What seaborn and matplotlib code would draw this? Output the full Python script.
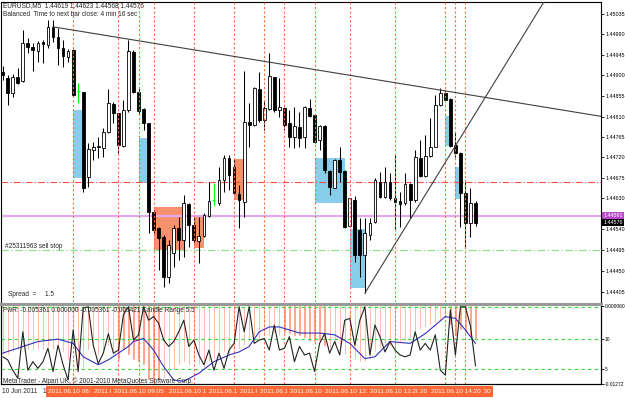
import matplotlib
matplotlib.use("Agg")
import matplotlib.pyplot as plt
import seaborn as sns
import numpy as np
import pandas as pd
from matplotlib.patches import Rectangle
from matplotlib.ticker import FixedLocator, FixedFormatter, NullLocator
from matplotlib.transforms import blended_transform_factory

# ---------------- data ----------------
opens = [1.44908,1.44894,1.44861,1.44897,1.44888,1.44971,1.44963,1.44954,1.44974,1.44967,
         1.45007,1.44985,1.44960,1.44941,1.44956,1.44866,1.44864,1.44677,1.44736,1.44743,
         1.44740,1.44776,1.44837,1.44817,1.44745,1.44824,1.44952,1.44864,1.44826,1.44795,
         1.44600,1.44564,1.44545,1.44457,1.44509,1.44564,1.44538,1.44617,1.44571,1.44536,
         1.44547,1.44591,1.44626,1.44619,1.44670,1.44718,1.44699,1.44639,1.44622,1.44798,
         1.44791,1.44870,1.44802,1.44826,1.44897,1.44824,1.44828,1.44795,1.44765,1.44787,
         1.44765,1.44828,1.44813,1.44758,1.44789,1.44690,1.44652,1.44714,1.44690,1.44569,
         1.44626,1.44560,1.44505,1.44549,1.44578,1.44666,1.44633,1.44666,1.44630,1.44624,
         1.44619,1.44661,1.44626,1.44718,1.44679,1.44723,1.44743,1.44835,1.44861,1.44848,
         1.44747,1.44729,1.44641,1.44575,1.44619]
highs = [1.44921,1.44901,1.44903,1.44916,1.45000,1.44982,1.44971,1.44976,1.44978,1.45022,
         1.45022,1.45004,1.44978,1.44958,1.44958,1.44883,1.44864,1.44751,1.44754,1.44765,
         1.44784,1.44870,1.44842,1.44817,1.44846,1.44978,1.44956,1.44872,1.44828,1.44795,
         1.44604,1.44567,1.44549,1.44538,1.44571,1.44589,1.44637,1.44619,1.44586,1.44589,
         1.44597,1.44666,1.44663,1.44699,1.44725,1.44725,1.44716,1.44659,1.44910,1.44839,
         1.44875,1.44908,1.44846,1.44949,1.44897,1.44894,1.44831,1.44824,1.44831,1.44820,
         1.44833,1.44848,1.44813,1.44791,1.44791,1.44692,1.44716,1.44743,1.44692,1.44630,
         1.44635,1.44586,1.44586,1.44586,1.44674,1.44688,1.44699,1.44685,1.44725,1.44644,
         1.44685,1.44663,1.44736,1.44758,1.44769,1.44806,1.44857,1.44872,1.44868,1.44850,
         1.44776,1.44732,1.44666,1.44652,1.44623]
lows = [1.44890,1.44835,1.44853,1.44882,1.44886,1.44949,1.44910,1.44930,1.44927,1.44960,
        1.44974,1.44923,1.44919,1.44930,1.44853,1.44839,1.44644,1.44655,1.44714,1.44718,
        1.44721,1.44773,1.44795,1.44729,1.44743,1.44820,1.44861,1.44813,1.44780,1.44553,
        1.44553,1.44472,1.44435,1.44443,1.44479,1.44494,1.44501,1.44523,1.44531,1.44487,
        1.44545,1.44589,1.44615,1.44615,1.44644,1.44648,1.44641,1.44564,1.44589,1.44743,
        1.44789,1.44798,1.44780,1.44824,1.44820,1.44809,1.44780,1.44743,1.44740,1.44743,
        1.44740,1.44809,1.44752,1.44736,1.44685,1.44637,1.44652,1.44666,1.44565,1.44567,
        1.44490,1.44457,1.44421,1.44538,1.44575,1.44630,1.44630,1.44626,1.44560,1.44567,
        1.44615,1.44586,1.44622,1.44677,1.44677,1.44721,1.44743,1.44833,1.44846,1.44743,
        1.44721,1.44567,1.44520,1.44545,1.44568]
closes = [1.44900,1.44861,1.44897,1.44883,1.44971,1.44963,1.44956,1.44971,1.44969,1.45007,
          1.44985,1.44960,1.44943,1.44954,1.44857,1.44866,1.44652,1.44738,1.44743,1.44745,
          1.44776,1.44839,1.44817,1.44747,1.44824,1.44954,1.44864,1.44822,1.44795,1.44600,
          1.44560,1.44542,1.44457,1.44527,1.44564,1.44538,1.44619,1.44571,1.44538,1.44547,
          1.44593,1.44624,1.44626,1.44670,1.44718,1.44681,1.44641,1.44626,1.44798,1.44791,
          1.44872,1.44802,1.44828,1.44899,1.44824,1.44831,1.44791,1.44765,1.44789,1.44762,
          1.44831,1.44811,1.44754,1.44789,1.44692,1.44655,1.44714,1.44688,1.44567,1.44630,
          1.44505,1.44505,1.44553,1.44575,1.44670,1.44633,1.44666,1.44630,1.44622,1.44617,
          1.44661,1.44626,1.44721,1.44679,1.44723,1.44743,1.44835,1.44861,1.44846,1.44745,
          1.44729,1.44641,1.44575,1.44619,1.44576]

# zones (start bar, end bar, low, high)
blue_start = [14, 27, 62, 69, 88, 90]
blue_end = [16, 29, 68, 72, 89, 91]
blue_low = [1.44674, 1.44663, 1.44619, 1.44432, 1.44745, 1.44628]
blue_high = [1.44824, 1.44762, 1.44718, 1.44562, 1.44811, 1.44699]
orange_start = [30, 38, 46]
orange_end = [36, 40, 48]
orange_low = [1.44516, 1.44520, 1.44626]
orange_high = [1.44611, 1.44589, 1.44716]

# vertical lines: bar index and its time label (drawn in this order)
vline_bars = [14, 23, 30, 27, 38, 46, 52, 56, 62, 69, 78, 88, 92, 90]
vline_times = ["2011.06.10 08:00", "2011.06.10 08:45", "2011.06.10 09:20", "2011.06.10 09:05",
               "2011.06.10 10:00", "2011.06.10 10:40", "2011.06.10 11:10", "2011.06.10 11:30",
               "2011.06.10 12:00", "2011.06.10 12:35", "2011.06.10 13:20", "2011.06.10 14:10",
               "2011.06.10 14:30", "2011.06.10 14:20"]
red_level = 1.44665
bid_level = 1.44591
stop_level = 1.44515

trend_a = ([10, 88], [1.45007, 1.44866])
trend_b = ([72, 88], [1.44421, 1.44709])

price_tick_labels = ['1.45035', '1.44990', '1.44945', '1.44900', '1.44855', '1.44810', '1.44765',
                     '1.44720', '1.44675', '1.44630', '1.44540', '1.44495', '1.44450', '1.44405']
price_tick_pos = [1.45035, 1.44992, 1.44945, 1.44901, 1.44855, 1.44809, 1.44765,
                  1.44721, 1.44674, 1.44630, 1.44562, 1.44516, 1.44469, 1.44424]

# indicator: candle range (black), its average (blue), PwR histogram
candle_range = [7.0, 6.5, 4.8, 3.5, 11.1, 4.8, 6.2, 5.1, 6.2, 8.4,
                4.6, 8.9, 5.7, 3.2, 11.4, 4.6, 15.0, 15.2, 8.9, 5.9,
                7.6, 10.8, 7.6, 8.1, 13.9, 15.2, 9.75, 10.6, 15.2, 13.0,
                13.6, 12.5, 9.75, 8.7, 9.5, 11.1, 13.0, 8.7, 9.75, 7.3,
                5.7, 8.1, 4.8, 7.6, 5.1, 8.1, 9.2, 15.2, 11.1, 15.2,
                9.2, 9.75, 10.0, 8.1, 12.2, 8.1, 8.4, 10.3, 6.2, 8.7,
                7.3, 7.6, 4.6, 9.2, 10.8, 7.6, 9.5, 7.3, 13.0, 13.3,
                8.9, 13.0, 15.2, 7.3, 12.2, 10.3, 7.8, 9.5, 8.1, 7.3,
                7.0, 7.3, 11.1, 8.1, 9.2, 8.1, 10.6, 4.8, 4.0, 14.7,
                7.3, 15.2, 15.2, 12.0, 5.5]
avg_bars = [0, 7, 11, 14, 16, 19, 21, 23, 25, 26, 28, 30, 32, 34, 36, 39, 42, 45, 47, 49,
            51, 53, 55, 57, 59, 63, 66, 69, 72, 74, 77, 81, 84, 88, 90, 92, 94]
avg_vals = [7.6, 9.5, 9.9, 9.2, 7.0, 5.7, 6.5, 7.6, 8.7, 9.5, 10.0, 8.1, 5.4, 3.2, 3.0, 4.3,
            6.2, 7.3, 7.8, 8.7, 11.1, 11.9, 11.9, 11.4, 10.9, 10.9, 10.6, 9.2, 6.7, 7.0,
            9.5, 9.2, 10.8, 13.6, 13.3, 11.4, 9.2]
pwr = [-0.0081, -0.0081, -0.0076, -0.0073, -0.0065, -0.0073, -0.0073, -0.0070, -0.0073, -0.0068,
       -0.0073, -0.0068, -0.0076, -0.0089, -0.0065, -0.0097, -0.0102, -0.0073, -0.0070, -0.0081,
       -0.0076, -0.0065, -0.0081, -0.0089, -0.0073, -0.0081, -0.0089, -0.0092, -0.0097, -0.0121,
       -0.0126, -0.0121, -0.0118, -0.0113, -0.0105, -0.0097, -0.0092, -0.0097, -0.0089, -0.0097,
       -0.0102, -0.0092, -0.0086, -0.0081, -0.0076, -0.0081, -0.0073, -0.0070, -0.0065, -0.0057,
       -0.0053, -0.0057, -0.0049, -0.0049, -0.0045, -0.0049, -0.0044, -0.0047, -0.0050, -0.0049,
       -0.0053, -0.0057, -0.0060, -0.0057, -0.0065, -0.0070, -0.0065, -0.0073, -0.0081, -0.0086,
       -0.0089, -0.0092, -0.0092, -0.0086, -0.0076, -0.0070, -0.0065, -0.0065, -0.0070, -0.0060,
       -0.0057, -0.0053, -0.0050, -0.0040, -0.0037, -0.0032, -0.0028, -0.0024, -0.0021, -0.0032,
       -0.0049, -0.0040, -0.0044, -0.0050, -0.0054]
ind_levels = [15.1, 10, 5]
ind_tick_labels = ['0.000060', '10', '5', '-0.01272']
ind_tick_pos = [15.4, 10, 5, 2.6]

header_text = "EURUSD,M5  1.44619 1.44623 1.44568 1.44576"
sub_text = "Balanced  Time to next bar close: 4 min 16 sec"
order_text = "#25311963 sell stop"
spread_text = "Spread  =     1.5"
ind_text = "PwR: -0.005361 0.000000 -0.005361 -0.005421 Candle Range 5.5"
copy_text = "MetaTrader - Alpari UK, \u00a9 2001-2010 MetaQuotes Software Corp."
axis_dates = ["10 Jun 2011", "10 Jun 2011"]

# ---------------- figure ----------------
sns.set_theme(style="white")
plt.rcParams['font.family'] = ['Liberation Sans', 'DejaVu Sans']
plt.rcParams['axes.linewidth'] = 0.8

W, H = 625, 398
fig = plt.figure(figsize=(W / 100, H / 100), dpi=100)
fig.patch.set_facecolor('white')
fx = lambda px: px / W
fy = lambda py: 1 - py / H

ax = fig.add_axes([fx(1), fy(302), fx(600), fy(1.5) - fy(302)])
axp = fig.add_axes([fx(1), fy(384), fx(600), fy(304) - fy(384)])
axr = axp.twinx()

XMIN, XMAX = (1 - 2.7) / 5.03, (601 - 2.7) / 5.03
YMIN, YMAX = 1.444016, 1.450627
df = pd.DataFrame({'o': opens, 'h': highs, 'l': lows, 'c': closes})
df['i'] = np.arange(len(df))

# zones
for s, e, lo, hi in zip(blue_start, blue_end, blue_low, blue_high):
    ax.add_patch(Rectangle((s, lo), e - s, hi - lo, facecolor='#87CEEB', edgecolor='none', zorder=1))
for s, e, lo, hi in zip(orange_start, orange_end, orange_low, orange_high):
    ax.add_patch(Rectangle((s, lo), e - s, hi - lo, facecolor='#F7906C', edgecolor='none', zorder=1))

# horizontal levels
ax.axhline(red_level, color='#FF4A4A', lw=0.8, ls=(0, (6, 2, 1, 2)), zorder=2)
ax.axhline(bid_level, color='#E2AAEA', lw=1.6, zorder=2)
ax.axhline(stop_level, color='#90E090', lw=0.9, ls=(0, (6, 2, 1, 2)), zorder=2)

# candles
body = df[df.c != df.o]
up = df[df.c > df.o]
dn = df[df.c < df.o]
dj = df[df.c == df.o]
ax.vlines(body.i, body.l, body.h, color='black', lw=0.75, zorder=3)
ax.vlines(dj.i, dj.l, dj.h, color='#00FF00', lw=0.8, zorder=3)
ax.hlines(dj.o, dj.i - 0.3, dj.i + 0.3, color='#00FF00', lw=0.8, zorder=3)
ax.bar(up.i, up.c - up.o, bottom=up.o, width=0.55, facecolor='white', edgecolor='black', lw=0.6, zorder=4)
ax.bar(dn.i, dn.o - dn.c, bottom=dn.c, width=0.55, facecolor='black', edgecolor='black', lw=0.6, zorder=4)

# vertical dotted lines with their time labels on the time strip
vcol = '#FF6A3D'
trx = blended_transform_factory(ax.transData, fig.transFigure)
for k, (v, t) in enumerate(zip(vline_bars, vline_times)):
    ax.axvline(v, color=vcol, lw=0.8, ls=(0, (2, 2)), zorder=5)
    axp.axvline(v, color=vcol, lw=0.8, ls=(0, (2, 2)), zorder=5)
    fig.text(0, 0, t, transform=trx, fontsize=4.6, color='white', ha='center', va='center',
             position=(v, fy(391.5)), zorder=20 + k,
             bbox=dict(boxstyle='square,pad=0.42', fc='#FF6633', ec='none'))

# trend lines (rays)
xa0, xa1 = trend_a[0]
ya0, ya1 = trend_a[1]
sa = (ya1 - ya0) / (xa1 - xa0)
sns.lineplot(x=[xa0, XMAX], y=[ya0, ya0 + sa * (XMAX - xa0)], color='#404040', lw=0.8, ax=ax, zorder=6)
xb0, xb1 = trend_b[0]
yb0, yb1 = trend_b[1]
sb = (yb1 - yb0) / (xb1 - xb0)
sns.lineplot(x=[xb0, xb0 + (YMAX - yb0) / sb], y=[yb0, YMAX], color='#404040', lw=0.8, ax=ax, zorder=6)
ax.set_xlim(XMIN, XMAX)
ax.set_ylim(YMIN, YMAX)

# axis styling main
tick_fs = 3.9
ax.yaxis.tick_right()
ax.yaxis.set_major_locator(FixedLocator(price_tick_pos))
ax.yaxis.set_major_formatter(FixedFormatter(price_tick_labels))
ax.tick_params(axis='y', right=True, length=2.2, width=0.6, labelsize=tick_fs, pad=1.0, colors='black')
ax.xaxis.set_major_locator(NullLocator())
ax.set_xlabel('')
ax.set_ylabel('')
for s in ['left', 'top', 'right']:
    ax.spines[s].set_color('black')
    ax.spines[s].set_linewidth(0.8)
ax.spines['bottom'].set_visible(False)
ax.set_facecolor('white')

# price boxes
tr = blended_transform_factory(ax.transAxes, ax.transData)
ax.text(1.004, bid_level, '1.44591', transform=tr, fontsize=tick_fs, color='white', va='center', ha='left',
        bbox=dict(boxstyle='square,pad=0.2', fc='#B848C8', ec='none'), zorder=10, clip_on=False)
ax.text(1.004, closes[-1], '1.44576', transform=tr, fontsize=tick_fs, color='white', va='center', ha='left',
        bbox=dict(boxstyle='square,pad=0.2', fc='black', ec='none'), zorder=10, clip_on=False)

# indicator panel
idx = np.arange(len(pwr))
axp.bar(idx, pwr, width=0.45, color='#FF9373', zorder=2)
axp.set_ylim(-0.01272, 0.00022)
axp.set_xlim(XMIN, XMAX)
axp.yaxis.set_major_locator(NullLocator())
axp.xaxis.set_major_locator(NullLocator())
for lv in ind_levels:
    axr.axhline(lv, color='#33DD33', lw=0.8, ls=(0, (3, 3)), zorder=1)
sns.lineplot(x=avg_bars, y=avg_vals, color='#3030C0', lw=0.8, ax=axr, zorder=3)
sns.lineplot(x=list(idx), y=candle_range, color='#222222', lw=0.8, ax=axr, zorder=4)
axr.set_ylim(2.54, 15.66)
axr.set_xlim(XMIN, XMAX)
axr.yaxis.set_major_locator(FixedLocator(ind_tick_pos))
axr.yaxis.set_major_formatter(FixedFormatter(ind_tick_labels))
axr.tick_params(axis='y', right=True, length=2.0, width=0.6, labelsize=3.5, pad=0.8, colors='black')
axr.set_ylabel('')
axp.set_ylabel('')
for a in (axp, axr):
    for s in ['left', 'right', 'bottom']:
        a.spines[s].set_color('black')
        a.spines[s].set_linewidth(0.8)
    a.spines['top'].set_color('#999999')
    a.spines['top'].set_linewidth(2.2)

# texts
fs = 4.7
fig.text(fx(3), fy(6), header_text, fontsize=fs, va='center', ha='left')
fig.text(fx(3), fy(15), sub_text, fontsize=fs, va='center', ha='left')
fig.text(fx(5), fy(246), order_text, fontsize=fs, va='center', ha='left')
fig.text(fx(8), fy(295), spread_text, fontsize=fs, va='center', ha='left')
fig.text(fx(3), fy(311), ind_text, fontsize=fs, va='center', ha='left')
fig.text(fx(3), fy(381), copy_text, fontsize=fs, va='center', ha='left')
fig.text(fx(2), fy(391.5), axis_dates[0], fontsize=fs, va='center', ha='left', zorder=5)
fig.text(fx(43), fy(391.5), axis_dates[1], fontsize=fs, va='center', ha='left', zorder=5)

fig.savefig('out.png', dpi=100, facecolor='white')
